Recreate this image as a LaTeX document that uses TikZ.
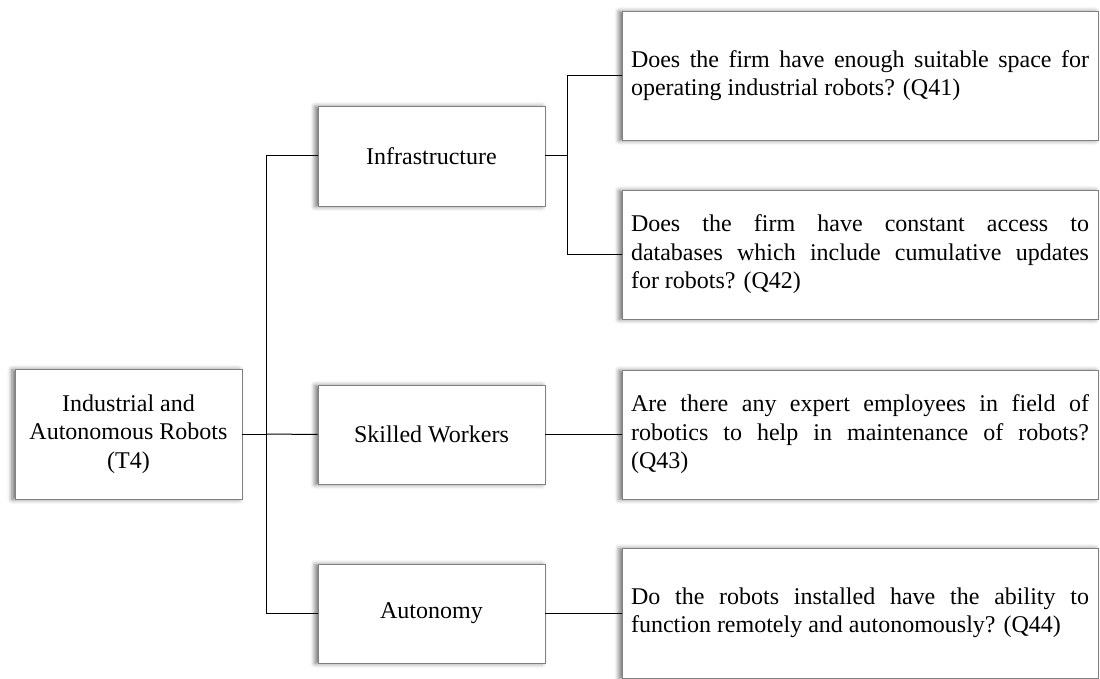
\documentclass[tikz,border=0pt]{standalone}
\usepackage{fontspec}
\setmainfont{Liberation Serif}
\usetikzlibrary{shadows.blur}
\begin{document}
\begin{tikzpicture}[x=1pt,y=-1pt,
  box/.style={draw=black!50, line width=0.7pt, fill=white,
    blur shadow={shadow xshift=-3pt, shadow yshift=-0.5pt,
      shadow blur radius=4.5pt, shadow opacity=55},
    font=\fontsize{24}{28.5}\selectfont, align=center,
    minimum width=227pt, inner sep=0pt},
  qbox/.style={box, minimum width=476pt, minimum height=129pt,
    text width=458pt, align=justify, xshift=-5pt,
    execute at begin node={\hyphenpenalty=10000\tolerance=10000\hbadness=10000}},
  link/.style={draw=black, line width=1pt}]
\useasboundingbox (0,0) rectangle (1100,679);

% topic
\node[box, minimum height=130pt] (root) at (128.5,434)
  {Industrial and\\Autonomous Robots\\(T4)};

% sub-criteria
\node[box, minimum height=100pt] (infra) at (431.5,156) {Infrastructure};
\node[box, minimum height=99pt] (skill) at (431.5,434.5) {Skilled Workers};
\node[box, minimum height=99pt] (auto) at (431.5,613.5) {Autonomy};

% questions (box drawn 476pt wide, text block 458pt)
\node[qbox] (q41) at (865,75.5)
  {Does the firm have enough suitable space for\linebreak operating industrial robots? (Q41)};
\node[qbox] (q42) at (865,254.5)
  {Does the firm have constant access to\linebreak databases which include cumulative updates\linebreak for robots? (Q42)};
\node[qbox] (q43) at (865,434.5)
  {Are there any expert employees in field of\linebreak robotics to help in maintenance of robots?\linebreak (Q43)};
\node[qbox, minimum height=130pt] (q44) at (865,613)
  {Do the robots installed have the ability to\linebreak function remotely and autonomously? (Q44)};

% trunk from the topic
\coordinate (trunk) at (266,434);
\draw[link] (root.east) -- (trunk);
\draw[link] (trunk |- infra.west) -- (trunk |- auto.west);
\draw[link] (trunk |- infra.west) -- (infra.west);
\draw[link] (trunk) -- (skill.west);
\draw[link] (trunk |- auto.west) -- (auto.west);

% fork from infrastructure
\coordinate (fork) at (567,156);
\draw[link] (infra.east) -- (fork);
\draw[link] (fork |- q41.west) -- (fork |- q42.west);
\draw[link] (fork |- q41.west) -- (q41.west);
\draw[link] (fork |- q42.west) -- (q42.west);

% single links
\draw[link] (skill.east) -- (q43.west);
\draw[link] (auto.east) -- (auto.east -| q44.west);
\end{tikzpicture}
\end{document}
